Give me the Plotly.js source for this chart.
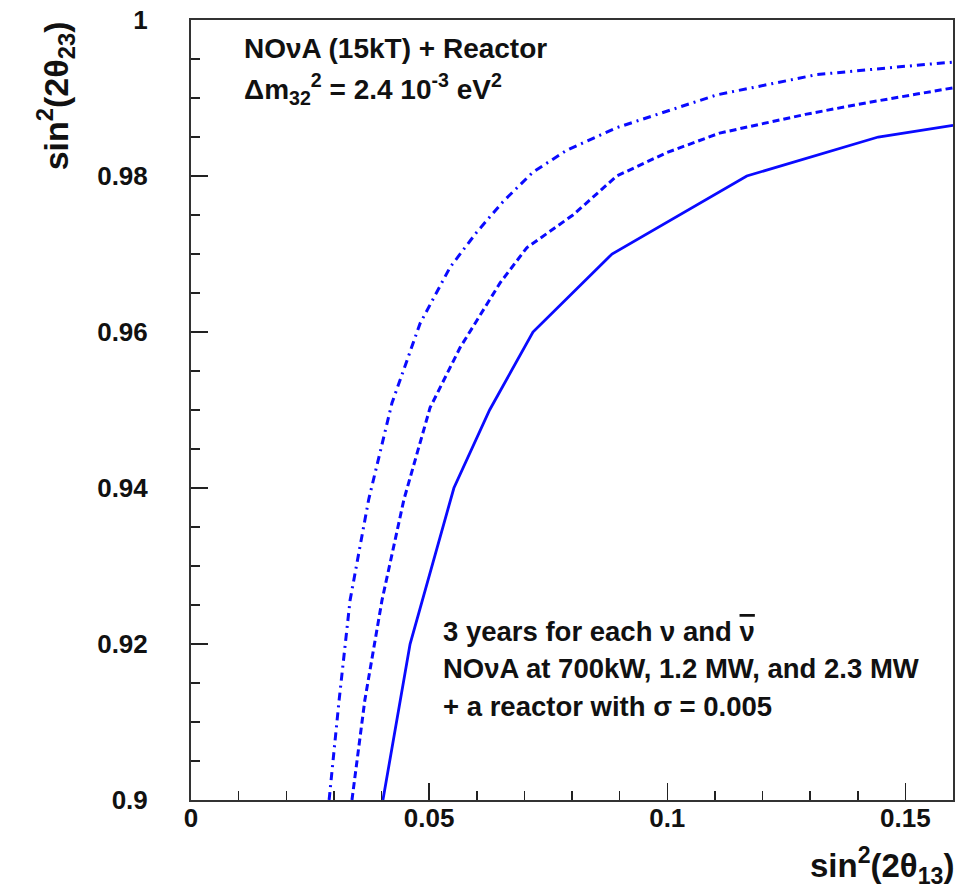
<!DOCTYPE html>
<html>
<head>
<meta charset="utf-8">
<script src="https://cdn.plot.ly/plotly-3.0.1.min.js"></script>
<style>html,body{margin:0;padding:0;background:#fff;}#plot{width:971px;height:889px;}</style>
</head>
<body>
<div id="plot"></div>
<script>
// sin^2(2theta13) vs sin^2(2theta23) contours
const solidX = [0.0403, 0.0460, 0.0552, 0.0627, 0.0718, 0.0884, 0.1167, 0.1443, 0.1600];
const solidY = [0.900, 0.920, 0.940, 0.950, 0.960, 0.970, 0.980, 0.985, 0.9865];

const dashX = [0.0338, 0.0365, 0.0401, 0.0447, 0.0502, 0.0565, 0.0649, 0.0705, 0.0802, 0.0894, 0.0999, 0.1110, 0.1290, 0.1420, 0.1524, 0.1600];
const dashY = [0.9000, 0.9128, 0.9256, 0.9385, 0.9503, 0.9580, 0.9663, 0.9708, 0.9750, 0.9800, 0.9830, 0.9855, 0.9879, 0.9894, 0.9905, 0.9913];

const dotdashX = [0.0290, 0.0311, 0.0334, 0.0373, 0.0422, 0.0481, 0.0544, 0.0600, 0.0655, 0.0718, 0.0789, 0.0894, 0.1104, 0.1314, 0.1524, 0.1600];
const dotdashY = [0.9000, 0.9128, 0.9256, 0.9385, 0.9509, 0.9611, 0.9683, 0.9728, 0.9767, 0.9805, 0.9833, 0.9862, 0.9904, 0.9930, 0.9942, 0.9946];

const xTickVals = [0, 0.05, 0.1, 0.15];
const xTickText = ["0", "0.05", "0.1", "0.15"];
const yTickVals = [0.9, 0.92, 0.94, 0.96, 0.98, 1.0];
const yTickText = ["0.9", "0.92", "0.94", "0.96", "0.98", "1"];

const blue = "#0a0aff";
const FONT = "Liberation Sans, Arial, Helvetica, sans-serif";

const traces = [
  {x: solidX, y: solidY, mode: "lines", line: {color: blue, width: 2.8}, hoverinfo: "skip"},
  {x: dashX, y: dashY, mode: "lines", line: {color: blue, width: 3, dash: "7px,4px"}, hoverinfo: "skip"},
  {x: dotdashX, y: dotdashY, mode: "lines", line: {color: blue, width: 3, dash: "8px,5px,2px,5px"}, hoverinfo: "skip"}
];

const ann = (text, x, y, xanchor, size, extra) => Object.assign({
  text: text, xref: "paper", yref: "paper", x: x, y: y,
  xanchor: xanchor, yanchor: "middle", showarrow: false,
  font: {family: FONT, size: size, color: "#111", weight: "bold"}
}, extra || {});

const layout = {
  width: 971, height: 889,
  margin: {l: 191, r: 18, t: 20, b: 89},
  paper_bgcolor: "#fff", plot_bgcolor: "#fff",
  showlegend: false,
  font: {family: FONT, color: "#111"},
  xaxis: {
    range: [0, 0.16], tickvals: xTickVals, ticktext: xTickText,
    ticks: "inside", ticklen: 17, tickwidth: 1.5, tickcolor: "#222",
    minor: {dtick: 0.01, tick0: 0, ticks: "inside", ticklen: 9, tickwidth: 1.5, tickcolor: "#222"},
    showgrid: false, zeroline: false, showline: true, mirror: true,
    linecolor: "#333", linewidth: 2,
    tickfont: {family: FONT, size: 26, color: "#111", weight: "bold"},
    ticklabelstandoff: -6
  },
  yaxis: {
    range: [0.9, 1.0], tickvals: yTickVals, ticktext: yTickText,
    ticks: "inside", ticklen: 17, tickwidth: 1.5, tickcolor: "#222",
    minor: {dtick: 0.005, tick0: 0.9, ticks: "inside", ticklen: 9, tickwidth: 1.5, tickcolor: "#222"},
    showgrid: false, zeroline: false, showline: true, mirror: true,
    linecolor: "#333", linewidth: 2,
    tickfont: {family: FONT, size: 26, color: "#111", weight: "bold"},
    ticklabelstandoff: 36
  },
  annotations: [
    ann("sin<sup>2</sup>(2θ<sub>13</sub>)", 1.004, -0.0835, "right", 33),
    ann("sin<sup>2</sup>(2θ<sub>23</sub>)", -0.178, 0.9026, "center", 34, {textangle: -90}),
    ann("NOνA (15kT) + Reactor", 0.0669, 0.9641, "left", 28),
    ann("Δm<sub>32</sub><sup>2</sup> = 2.4 10<sup>-3</sup> eV<sup>2</sup>", 0.0669, 0.912, "left", 28),
    ann("3 years for each ν and <span style=\"text-decoration:overline\">ν</span>", 0.3281, 0.2157, "left", 27.5),
    ann("NOνA at 700kW, 1.2 MW, and 2.3 MW", 0.3281, 0.1683, "left", 27.5),
    ann("+ a reactor with σ = 0.005", 0.3281, 0.1202, "left", 27.5)
  ]
};

Plotly.newPlot("plot", traces, layout, {displayModeBar: false, staticPlot: true});
</script>
</body>
</html>
